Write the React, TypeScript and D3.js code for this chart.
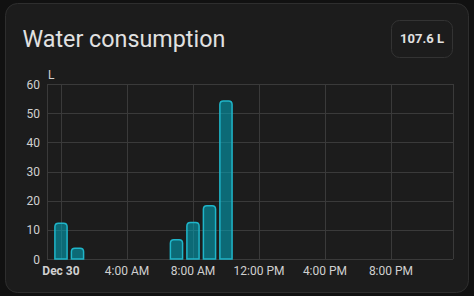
import React from "react";
import * as d3 from "d3";

const hours = [0, 1, 7, 8, 9, 10];
const values = [12.3, 3.7, 6.6, 12.5, 18.3, 54.2];
const yTicks = [0, 10, 20, 30, 40, 50, 60];
const xTickHours = [0, 4, 8, 12, 16, 20];
const xTickLabels = ["Dec 30", "4:00 AM", "8:00 AM", "12:00 PM", "4:00 PM", "8:00 PM"];
const title = "Water consumption";
const total = "107.6 L";
const unit = "L";

export default function App() {
  const W = 474, H = 296;
  const left = 47, right = 453, top = 84, bottom = 259;
  const x = d3.scaleLinear().domain([-0.848, 23.76]).range([left, right]);
  const y = d3.scaleLinear().domain([0, 60]).range([bottom, top]);
  const bw = 12.2;
  const r = 3.5;
  const font = "Roboto, 'Noto Sans', sans-serif";
  const barPath = (cx: number, v: number) => {
    const x0 = cx - bw / 2, x1 = cx + bw / 2, y0 = y(v), yb = y(0);
    return `M${x0},${yb}V${y0 + r}Q${x0},${y0} ${x0 + r},${y0}H${x1 - r}Q${x1},${y0} ${x1},${y0 + r}V${yb}Z`;
  };
  return (
    <svg width={W} height={H} style={{ position: "absolute", left: 0, top: 0, background: "#111111" }}>
      <rect x={5.5} y={3.5} width={463} height={289} rx={12} fill="#1c1c1c" stroke="#2e2e2e" />
      <text x={22.5} y={47} fill="#e1e1e1" fontSize={23.3} fontFamily={font}>{title}</text>
      <rect x={391.5} y={20.5} width={61} height={37} rx={8} fill="none" stroke="#333" />
      <text x={422} y={43} textAnchor="middle" fill="#e1e1e1" fontSize={13} fontWeight={700} fontFamily={font}>{total}</text>
      <text x={48} y={79} fill="#d0d0d0" fontSize={12} fontFamily={font}>{unit}</text>
      {yTicks.map((t) => (
        <g key={t}>
          <line x1={left} x2={right} y1={Math.round(y(t)) + 0.5} y2={Math.round(y(t)) + 0.5} stroke="#3a3a3a" />
          <text x={40} y={y(t) + 4.5} textAnchor="end" fill="#d0d0d0" fontSize={12} fontFamily={font}>{t}</text>
        </g>
      ))}
      {xTickHours.map((h, i) => (
        <g key={h}>
          <line x1={Math.round(x(h)) + 0.5} x2={Math.round(x(h)) + 0.5} y1={top} y2={bottom} stroke="#3a3a3a" />
          <text x={x(h)} y={275} textAnchor="middle" fill="#d0d0d0" fontSize={12} fontWeight={i === 0 ? 700 : 400} fontFamily={font}>{xTickLabels[i]}</text>
        </g>
      ))}
      <line x1={left + 0.5} x2={left + 0.5} y1={top} y2={bottom} stroke="#3a3a3a" />
      <line x1={right + 0.5} x2={right + 0.5} y1={top} y2={bottom} stroke="#3a3a3a" />
      {hours.map((h, i) => (
        <path key={h} d={barPath(x(h), values[i])} fill="rgba(0,172,193,0.55)" stroke="#1fb5c9" strokeWidth={1.5} />
      ))}
    </svg>
  );
}
